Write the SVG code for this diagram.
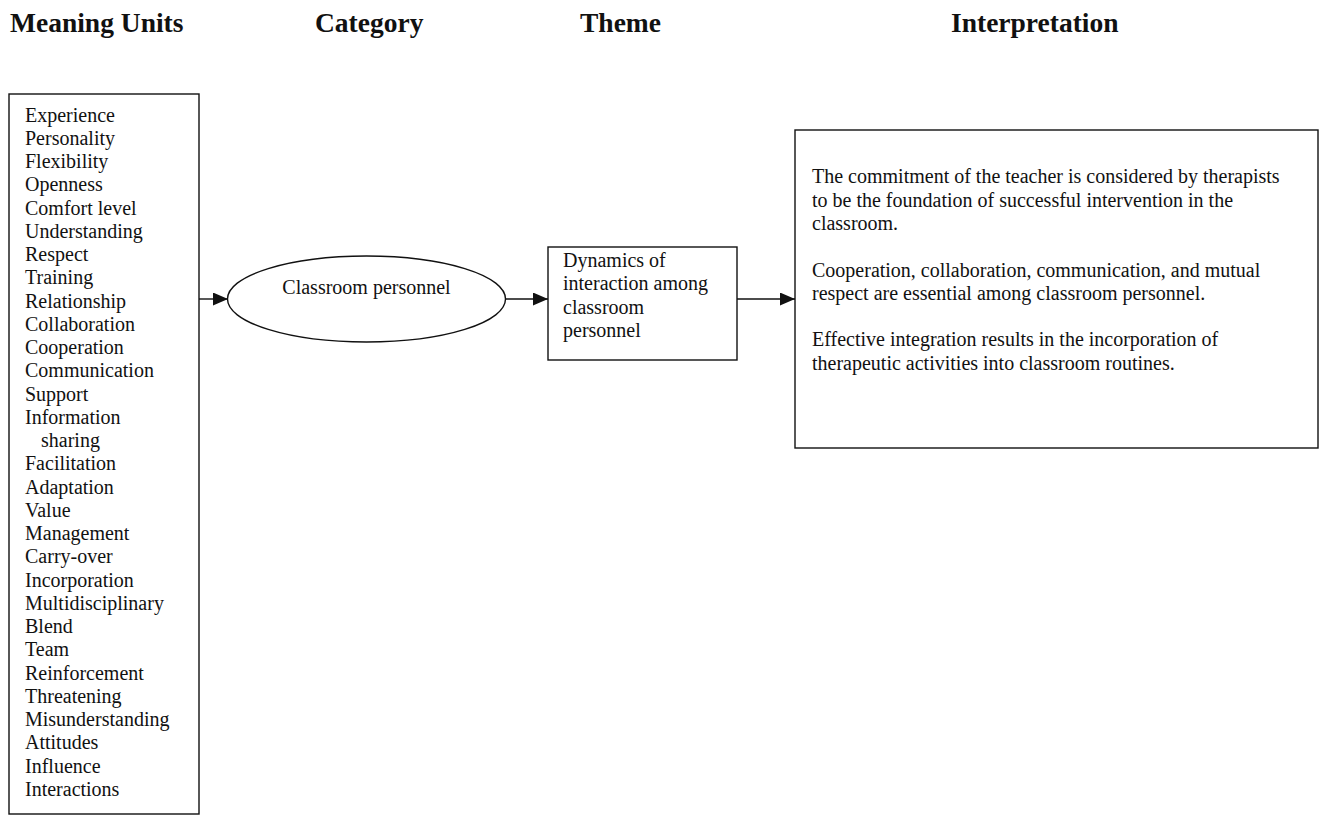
<svg xmlns="http://www.w3.org/2000/svg" width="1320" height="823" viewBox="0 0 1320 823">
  <style>
    .hdr { font-family: "Liberation Serif", "Times New Roman", serif; font-weight: bold; font-size: 27.5px; fill: #111; }
    .txt { font-family: "Liberation Serif", "Times New Roman", serif; font-size: 20px; fill: #111; }
    .box { fill: #fff; stroke: #111; stroke-width: 1.4; }
    .link { fill: none; stroke: #111; stroke-width: 1.4; }
  </style>
  <defs>
    <marker id="arrow" markerUnits="userSpaceOnUse" markerWidth="16" markerHeight="14" refX="15" refY="6.5" orient="auto">
      <path d="M0,0 L15,6.5 L0,13 Z" fill="#111"/>
    </marker>
  </defs>

  <rect width="1320" height="823" fill="#fff"/>

  <!-- column headings -->
  <g id="headings">
    <text class="hdr" x="10" y="32">Meaning Units</text>
    <text class="hdr" x="315" y="32">Category</text>
    <text class="hdr" x="580" y="32">Theme</text>
    <text class="hdr" x="951" y="32">Interpretation</text>
  </g>

  <!-- meaning units list -->
  <g id="meaning-units">
    <rect class="box" x="9" y="94" width="190" height="720"/>
    <text class="txt">
      <tspan x="25" y="121.7">Experience</tspan>
      <tspan x="25" y="144.9">Personality</tspan>
      <tspan x="25" y="168.2">Flexibility</tspan>
      <tspan x="25" y="191.4">Openness</tspan>
      <tspan x="25" y="214.7">Comfort level</tspan>
      <tspan x="25" y="237.9">Understanding</tspan>
      <tspan x="25" y="261.2">Respect</tspan>
      <tspan x="25" y="284.4">Training</tspan>
      <tspan x="25" y="307.6">Relationship</tspan>
      <tspan x="25" y="330.9">Collaboration</tspan>
      <tspan x="25" y="354.1">Cooperation</tspan>
      <tspan x="25" y="377.4">Communication</tspan>
      <tspan x="25" y="400.6">Support</tspan>
      <tspan x="25" y="423.9">Information</tspan>
      <tspan x="41" y="447.1">sharing</tspan>
      <tspan x="25" y="470.3">Facilitation</tspan>
      <tspan x="25" y="493.6">Adaptation</tspan>
      <tspan x="25" y="516.8">Value</tspan>
      <tspan x="25" y="540.1">Management</tspan>
      <tspan x="25" y="563.3">Carry-over</tspan>
      <tspan x="25" y="586.6">Incorporation</tspan>
      <tspan x="25" y="609.8">Multidisciplinary</tspan>
      <tspan x="25" y="633.0">Blend</tspan>
      <tspan x="25" y="656.3">Team</tspan>
      <tspan x="25" y="679.5">Reinforcement</tspan>
      <tspan x="25" y="702.8">Threatening</tspan>
      <tspan x="25" y="726.0">Misunderstanding</tspan>
      <tspan x="25" y="749.3">Attitudes</tspan>
      <tspan x="25" y="772.5">Influence</tspan>
      <tspan x="25" y="795.7">Interactions</tspan>
    </text>
  </g>

  <!-- category -->
  <g id="category">
    <ellipse class="box" cx="366.5" cy="299" rx="139" ry="43"/>
    <text class="txt" x="366.5" y="294" text-anchor="middle">Classroom personnel</text>
  </g>

  <!-- theme -->
  <g id="theme">
    <rect class="box" x="548" y="247" width="189" height="113"/>
    <text class="txt">
      <tspan x="563" y="267">Dynamics of</tspan>
      <tspan x="563" y="290.3">interaction among</tspan>
      <tspan x="563" y="313.6">classroom</tspan>
      <tspan x="563" y="336.9">personnel</tspan>
    </text>
  </g>

  <!-- interpretation -->
  <g id="interpretation">
    <rect class="box" x="795" y="130" width="523" height="318"/>
    <text class="txt">
      <tspan x="812" y="183.3">The commitment of the teacher is considered by therapists</tspan>
      <tspan x="812" y="206.6">to be the foundation of successful intervention in the</tspan>
      <tspan x="812" y="229.9">classroom.</tspan>
      <tspan x="812" y="276.5">Cooperation, collaboration, communication, and mutual</tspan>
      <tspan x="812" y="299.8">respect are essential among classroom personnel.</tspan>
      <tspan x="812" y="346.4">Effective integration results in the incorporation of</tspan>
      <tspan x="812" y="369.7">therapeutic activities into classroom routines.</tspan>
    </text>
  </g>

  <!-- connectors -->
  <g id="connectors">
    <line class="link" x1="199" y1="299" x2="228" y2="299" marker-end="url(#arrow)"/>
    <line class="link" x1="505.5" y1="299" x2="548" y2="299" marker-end="url(#arrow)"/>
    <line class="link" x1="737" y1="299" x2="795" y2="299" marker-end="url(#arrow)"/>
  </g>
</svg>
